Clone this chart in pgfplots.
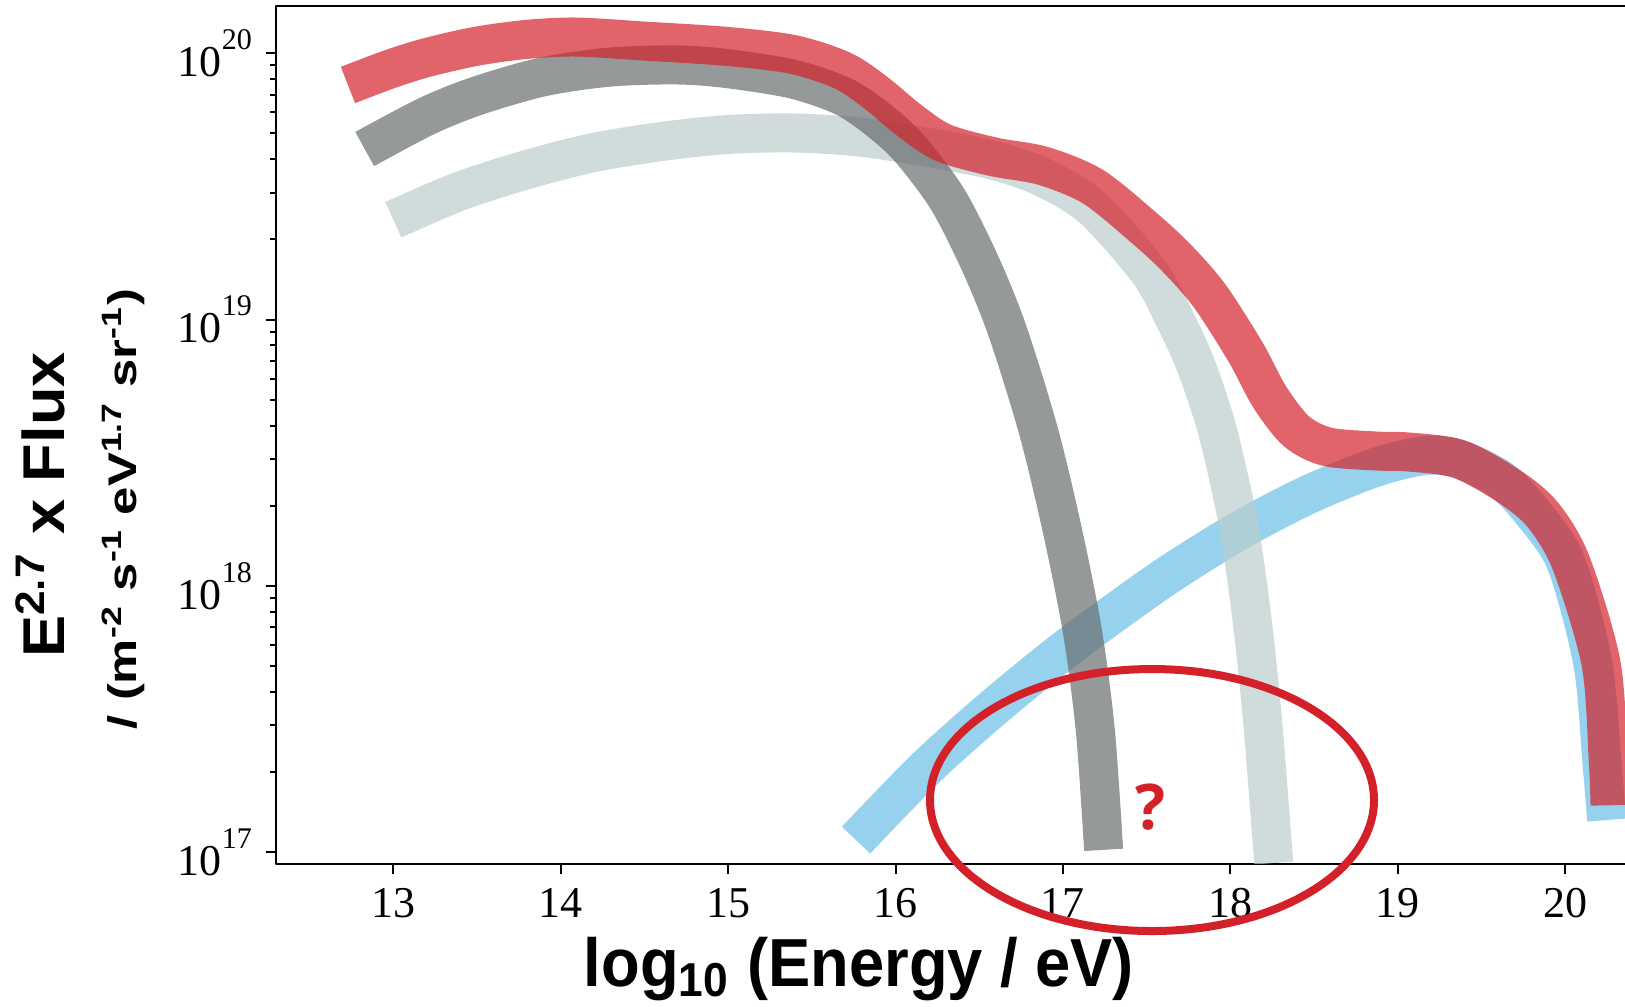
\documentclass[border=0pt]{standalone}
\usepackage{fontspec}
\setmainfont{Liberation Serif}
\newfontfamily\xlabfont[FakeStretch=0.93]{Liberation Sans}
\newfontfamily\ylabfontA[FakeStretch=1.07]{Liberation Sans}
\newfontfamily\ylabfontB[FakeStretch=1.27]{Liberation Sans}
\newfontfamily\qfont{Open Sans}
\usepackage{pgfplots}
\pgfplotsset{compat=1.18}
\definecolor{cred}{RGB}{211,34,42}
\definecolor{cgray}{RGB}{105,109,110}
\definecolor{clight}{RGB}{186,205,204}
\definecolor{cblue}{RGB}{105,191,231}
\definecolor{cellip}{RGB}{212,32,40}
\newcommand\tl[1]{10\raisebox{6.75bp}{\fontsize{7.5bp}{7.5bp}\selectfont #1}}
\begin{document}
\begin{tikzpicture}
\begin{axis}[
  at={(0,0)}, anchor=south west,
  scale only axis, width=347.4bp, height=214.5bp,
  xmin=12.299, xmax=20.6,
  ymode=log, ymin=9.03e16, ymax=1.5054e20,
  xtick={13,14,15,16,17,18,19,20},
  xticklabels={13,14,15,16,17,18,19,20},
  ytick={1e17,1e18,1e19,1e20},
  yticklabels={\tl{17},\tl{18},\tl{19},\tl{20}},
  minor ytick={2e17,3e17,4e17,5e17,6e17,7e17,8e17,9e17,2e18,3e18,4e18,5e18,6e18,7e18,8e18,9e18,2e19,3e19,4e19,5e19,6e19,7e19,8e19,9e19},
  tick align=outside, xtick pos=left, ytick pos=left,
  major tick length=2.5bp, minor tick length=1.5bp,
  every tick/.style={black, line width=0.5bp},
  axis line style={line width=0.7bp},
  tick label style={font=\fontsize{11bp}{13bp}\selectfont},
  line cap=butt, line join=round,
]
\addplot[draw=cblue, draw opacity=0.7, line width=9.75bp, smooth, no marks] coordinates {
(15.764,1.11e17) (16.182,2.07e17) (16.581,3.47e17) (16.979,5.56e17) (17.377,8.51e17)
(17.676,1.15e18) (18.074,1.64e18) (18.472,2.21e18) (18.870,2.79e18) (19.169,3.09e18)
(19.368,2.99e18) (19.617,2.50e18) (19.806,1.88e18) (20.005,1.22e18) (20.165,5.12e17)
(20.220,2.16e17) (20.248,1.32e17)};
\addplot[draw=clight, draw opacity=0.7, line width=9.75bp, smooth, no marks] coordinates {
(13.000,2.37e19) (13.394,3.03e19) (13.793,3.65e19) (14.191,4.23e19) (14.589,4.65e19)
(14.987,4.95e19) (15.386,5.02e19) (15.784,4.85e19) (16.182,4.44e19) (16.581,3.97e19)
(16.879,3.42e19) (17.178,2.62e19) (17.514,1.51e19) (17.666,1.01e19) (17.793,6.75e18)
(17.925,3.78e18) (18.054,1.62e18) (18.137,6.82e17) (18.197,2.88e17) (18.259,9.10e16)};
\addplot[draw=cgray, draw opacity=0.7, line width=9.75bp, smooth, no marks] coordinates {
(12.829,4.37e19) (13.195,5.79e19) (13.494,6.90e19) (13.892,8.15e19) (14.290,8.87e19)
(14.689,9.04e19) (14.987,8.77e19) (15.386,8.00e19) (15.685,6.90e19) (15.884,5.71e19)
(16.082,4.40e19) (16.314,2.81e19) (16.514,1.58e19) (16.673,8.89e18) (16.855,3.79e18)
(16.996,1.62e18) (17.115,6.82e17) (17.193,2.88e17) (17.243,1.02e17)};
\addplot[draw=cred, draw opacity=0.7, line width=9.75bp, smooth, no marks] coordinates {
(12.729,7.60e19) (12.968,8.67e19) (13.195,9.62e19) (13.494,1.062e20) (13.793,1.127e20)
(14.091,1.151e20) (14.492,1.112e20) (14.987,1.062e20) (15.386,9.90e19) (15.685,8.60e19)
(15.884,7.10e19) (16.082,5.60e19) (16.282,4.62e19) (16.581,4.09e19) (16.879,3.78e19)
(17.178,3.16e19) (17.477,2.23e19) (17.676,1.71e19) (17.875,1.23e19) (18.091,7.55e18)
(18.235,5.12e18) (18.394,3.81e18) (18.578,3.33e18) (18.866,3.21e18) (19.069,3.18e18)
(19.368,2.99e18) (19.667,2.36e18) (19.866,1.85e18) (20.035,1.22e18) (20.214,5.12e17)
(20.258,2.16e17) (20.268,1.50e17)};
\coordinate (ec) at (axis cs:17.532,1.57e17);
\coordinate (qm) at (axis cs:17.526,1.48e17);
\end{axis}
\draw[cellip, line width=2bp] (ec) ellipse [x radius=55.5bp, y radius=32.75bp];
\node[text=cellip, font=\qfont\bfseries\fontsize{15.75bp}{15.75bp}\selectfont, inner sep=0] at (qm) {?};
\node[anchor=base, inner sep=0, font=\xlabfont\bfseries\fontsize{17bp}{17bp}\selectfont] at (145.75bp,-30.5bp) {log\textsubscript{10} (Energy / eV)};
\node[rotate=90, anchor=base, inner sep=0, font=\ylabfontA\bfseries\fontsize{14.75bp}{14.75bp}\selectfont] at (-52.75bp,89.75bp) {E\textsuperscript{2.7} x Flux};
\node[rotate=90, anchor=base, inner sep=0, font=\ylabfontB\bfseries\fontsize{10bp}{10bp}\selectfont] at (-35bp,88.75bp) {/ (m\textsuperscript{-2} s\textsuperscript{-1} eV\textsuperscript{1.7} sr\textsuperscript{-1})};
\pgfresetboundingbox
\path[use as bounding box] (-69bp,-35.75bp) rectangle (337.25bp,216bp);
\end{tikzpicture}
\end{document}
